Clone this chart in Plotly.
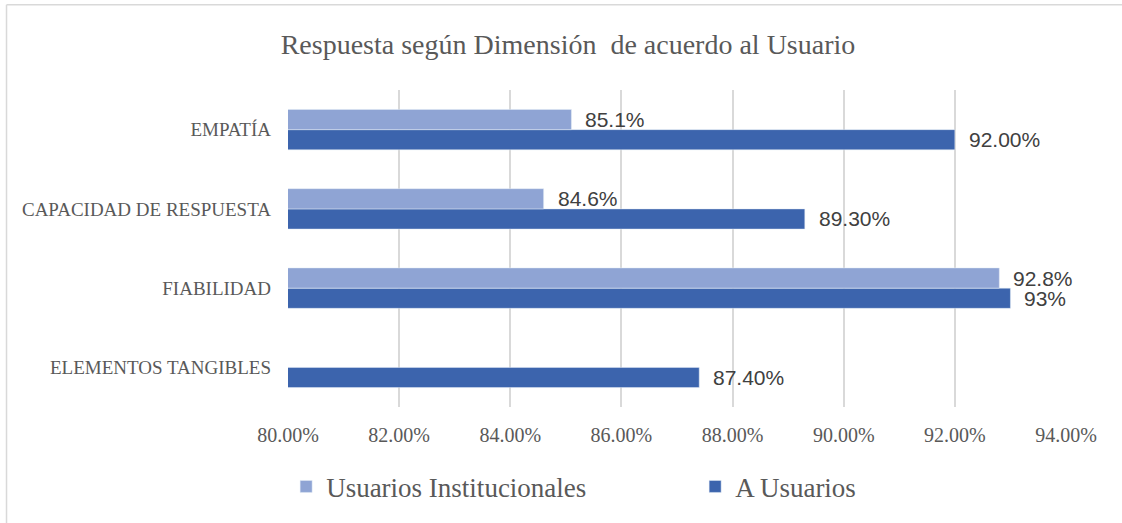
import plotly.graph_objects as go

categories = ["ELEMENTOS TANGIBLES", "FIABILIDAD", "CAPACIDAD DE RESPUESTA", "EMPATÍA"]
institucionales = [None, 92.8, 84.6, 85.1]
a_usuarios = [87.4, 93.0, 89.3, 92.0]
inst_labels = ["", "92.8%", "84.6%", "85.1%"]
a_labels = ["87.40%", "93%", "89.30%", "92.00%"]
x_ticks = [80, 82, 84, 86, 88, 90, 92, 94]
x_tick_labels = [f"{v:.2f}%" for v in x_ticks]

SERIF = "Liberation Serif, Times New Roman, serif"
SANS = "Liberation Sans, Arial, sans-serif"
C_LIGHT = "#8FA4D4"
C_DARK = "#3C64AD"
GREY = "#595959"

fig = go.Figure()
fig.add_trace(go.Bar(
    y=categories, x=a_usuarios, orientation="h", name="A Usuarios",
    marker=dict(color=C_DARK), legendrank=2,
))
fig.add_trace(go.Bar(
    y=categories, x=institucionales, orientation="h", name="Usuarios Institucionales",
    marker=dict(color=C_LIGHT), legendrank=1,
))

annotations = []
for vals, labels, shift in ((institucionales, inst_labels, 10), (a_usuarios, a_labels, -10)):
    for cat, v, lab in zip(categories, vals, labels):
        if v is None or not lab:
            continue
        annotations.append(dict(
            x=v, y=cat, xref="x", yref="y", text=lab, showarrow=False,
            xanchor="left", yanchor="middle", xshift=12, yshift=shift,
            font=dict(family=SANS, size=21, color="#404040"),
        ))

fig.update_layout(
    width=1122, height=523,
    margin=dict(l=288, r=56, t=90, b=111),
    paper_bgcolor="white", plot_bgcolor="white",
    barmode="group", bargap=0.49, bargroupgap=0.0,
    title=dict(
        text="Respuesta según Dimensión  de acuerdo al Usuario",
        x=568 / 1122, xanchor="center", xref="container",
        y=1 - 44 / 523, yanchor="middle", yref="container",
        font=dict(family=SERIF, size=28, color=GREY),
    ),
    xaxis=dict(
        range=[80, 94], tickvals=x_ticks, ticktext=x_tick_labels,
        showgrid=True, gridcolor="#d9d9d9", gridwidth=1.5,
        zeroline=False, showline=False, ticks="",
        tickfont=dict(family=SERIF, size=20, color=GREY),
        ticklabelstandoff=14,
    ),
    yaxis=dict(
        categoryorder="array", categoryarray=categories,
        showgrid=False, zeroline=False, showline=False, ticks="",
        tickfont=dict(family=SERIF, size=19, color=GREY),
        ticklabelstandoff=16,
    ),
    legend=dict(
        orientation="h", x=-0.0024, xanchor="left", y=-0.252, yanchor="middle",
        font=dict(family=SERIF, size=27, color=GREY),
        entrywidth=364, entrywidthmode="pixels",
        bgcolor="rgba(0,0,0,0)",
    ),
    annotations=annotations,
    shapes=[
        dict(type="line", xref="paper", yref="paper", x0=-0.3618, x1=-0.3618, y0=-0.5, y1=1.2686,
             line=dict(color="#d9d9d9", width=1.5)),
        dict(type="line", xref="paper", yref="paper", x0=-0.3618, x1=1.5, y0=1.2686, y1=1.2686,
             line=dict(color="#d9d9d9", width=1.5)),
    ],
)

fig.write_html(
    "out.html",
    config={"displayModeBar": False},
    post_script="document.body.style.margin='0px';",
)
